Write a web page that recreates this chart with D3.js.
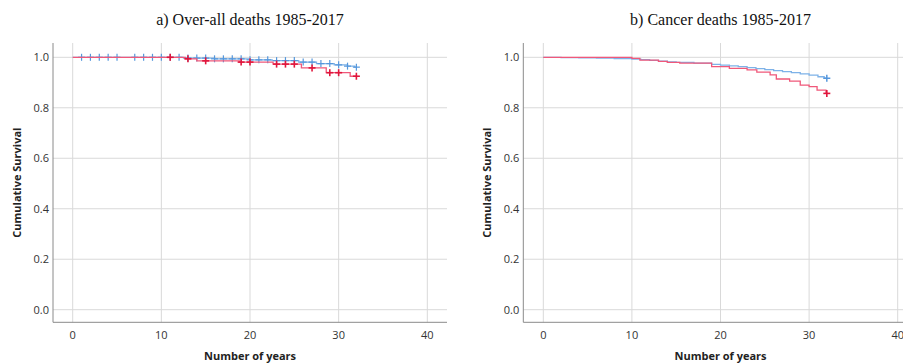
<!DOCTYPE html>
<html>
<head>
<meta charset="utf-8">
<script src="https://cdn.jsdelivr.net/npm/d3@7"></script>
<style>
  body { margin: 0; background: #fff; }
  .tick-label { font-family: "Open Sans", sans-serif; font-size: 11px; fill: #333; }
  .axis-title { font-family: "Open Sans", sans-serif; font-size: 11px; font-weight: bold; fill: #222; }
  .title { font-family: "Liberation Serif", "Times New Roman", serif; font-size: 16px; fill: #111; }
</style>
</head>
<body>
<div id="chart"></div>
<script>
// Survival curves: [years, cumulative survival] step points
const overallBlue = [[0, 1], [12.5, 0.997], [16, 0.994], [20, 0.990], [22.5, 0.987], [25.5, 0.981],
  [27.5, 0.975], [29.5, 0.970], [31, 0.965], [31.8, 0.961], [32, 0.961]];
const overallRed = [[0, 1], [12.7, 0.994], [14, 0.986], [18.8, 0.981], [22.6, 0.973], [25.8, 0.958],
  [28.6, 0.939], [31.3, 0.925], [32, 0.925]];
const overallBlueCensored = [1, 2, 3, 4, 5, 7, 8, 9, 10, 11, 12, 13, 14, 15, 16, 17, 18, 19, 20, 21,
  22, 23, 24, 25, 26, 27, 28, 29, 30, 31, 32];
const overallRedCensored = [11, 13, 15, 19, 20, 23, 24, 25, 27, 29, 30, 32];

const cancerBlue = [[0, 1], [2, 0.999], [4, 0.998], [6, 0.997], [8, 0.995], [10, 0.993], [11, 0.991],
  [12, 0.988], [13, 0.985], [14, 0.982], [15, 0.980], [17, 0.977], [19, 0.972], [20, 0.969],
  [21, 0.966], [22, 0.963], [23, 0.959], [24, 0.955], [25, 0.951], [26, 0.947], [27, 0.943],
  [28, 0.939], [29, 0.934], [30, 0.929], [31, 0.923], [31.7, 0.917], [32, 0.917]];
const cancerRed = [[0, 1], [10, 0.996], [10.9, 0.989], [13, 0.984], [14, 0.980], [15.4, 0.977],
  [19, 0.963], [21, 0.956], [23, 0.950], [24.1, 0.941], [25.6, 0.930], [26.3, 0.914], [27.8, 0.906],
  [29, 0.890], [30, 0.884], [30.9, 0.870], [31.9, 0.857], [32, 0.857]];
const cancerBlueCensored = [32];
const cancerRedCensored = [32];

const xTicks = [0, 10, 20, 30, 40];
const yTicks = [0, 0.2, 0.4, 0.6, 0.8, 1.0];

const width = 903, height = 363;
const blueLine = "#7eb2e8", blueMark = "#5597dc";
const redLine = "#f0587a", redMark = "#e0163c";

let svg = d3.select("#chart")
  .append("svg")
  .attr("width", width)
  .attr("height", height);

drawPanel({
  left: 53, right: 447, x0: 72.7, x40: 427.3,
  title: "a) Over-all deaths 1985-2017",
  series: [
    {steps: overallBlue, censored: overallBlueCensored, line: blueLine, mark: blueMark, mw: 1.2},
    {steps: overallRed, censored: overallRedCensored, line: redLine, mark: redMark, mw: 1.6}
  ]
});
drawPanel({
  left: 523.3, right: 903, x0: 543.3, x40: 897.7,
  title: "b) Cancer deaths 1985-2017",
  series: [
    {steps: cancerBlue, censored: cancerBlueCensored, line: blueLine, mark: blueMark, mw: 1.5},
    {steps: cancerRed, censored: cancerRedCensored, line: redLine, mark: redMark, mw: 1.6}
  ]
});

function drawPanel(cfg) {
  const top = 43, bottom = 322.3;
  let x = d3.scaleLinear().domain([0, 40]).range([cfg.x0, cfg.x40]);
  let y = d3.scaleLinear().domain([0, 1]).range([309.7, 57.3]);
  let g = svg.append("g");

  // grid
  g.selectAll(".vgrid").data(xTicks).enter()
    .append("line")
    .attr("x1", d => x(d)).attr("x2", d => x(d))
    .attr("y1", top).attr("y2", bottom)
    .attr("stroke", "#d9d9d9").attr("stroke-width", 1);
  g.selectAll(".hgrid").data(yTicks).enter()
    .append("line")
    .attr("x1", cfg.left).attr("x2", cfg.right)
    .attr("y1", d => y(d)).attr("y2", d => y(d))
    .attr("stroke", "#d9d9d9").attr("stroke-width", 1);

  // axis lines
  g.append("line")
    .attr("x1", cfg.left).attr("x2", cfg.left)
    .attr("y1", top).attr("y2", bottom)
    .attr("stroke", "#8a8a8a");
  g.append("line")
    .attr("x1", cfg.left).attr("x2", cfg.right)
    .attr("y1", bottom).attr("y2", bottom)
    .attr("stroke", "#8a8a8a");

  // tick labels
  g.selectAll(".xlab").data(xTicks).enter()
    .append("text")
    .attr("class", "tick-label")
    .attr("x", d => x(d)).attr("y", 339)
    .attr("text-anchor", "middle")
    .text(d => d);
  g.selectAll(".ylab").data(yTicks).enter()
    .append("text")
    .attr("class", "tick-label")
    .attr("x", cfg.left - 4).attr("y", d => y(d) + 4)
    .attr("text-anchor", "end")
    .text(d => d.toFixed(1));

  // axis titles
  g.append("text")
    .attr("class", "axis-title")
    .attr("x", x(20)).attr("y", 360)
    .attr("text-anchor", "middle")
    .text("Number of years");
  g.append("text")
    .attr("class", "axis-title")
    .attr("transform", `translate(${cfg.left - 32}, ${(top + bottom) / 2}) rotate(-90)`)
    .attr("text-anchor", "middle")
    .text("Cumulative Survival");

  g.append("text")
    .attr("class", "title")
    .attr("x", x(20)).attr("y", 25)
    .attr("text-anchor", "middle")
    .text(cfg.title);

  let line = d3.line()
    .x(d => x(d[0]))
    .y(d => y(d[1]))
    .curve(d3.curveStepAfter);

  cfg.series.forEach(function(s) {
    g.append("path")
      .datum(s.steps)
      .attr("d", line)
      .attr("fill", "none")
      .attr("stroke", s.line)
      .attr("stroke-width", 1.3);

    // survival value at a given time, from the step points
    let survAt = function(t) {
      let v = 1;
      s.steps.forEach(function(p) { if (p[0] <= t) v = p[1]; });
      return v;
    };
    let marks = g.selectAll(null).data(s.censored).enter().append("g")
      .attr("transform", d => `translate(${x(d)}, ${y(survAt(d))})`)
      .attr("stroke", s.mark)
      .attr("stroke-width", s.mw);
    marks.append("line").attr("x1", -3.5).attr("x2", 3.5).attr("y1", 0).attr("y2", 0);
    marks.append("line").attr("x1", 0).attr("x2", 0).attr("y1", -3.5).attr("y2", 3.5);
  });
}
</script>
</body>
</html>
